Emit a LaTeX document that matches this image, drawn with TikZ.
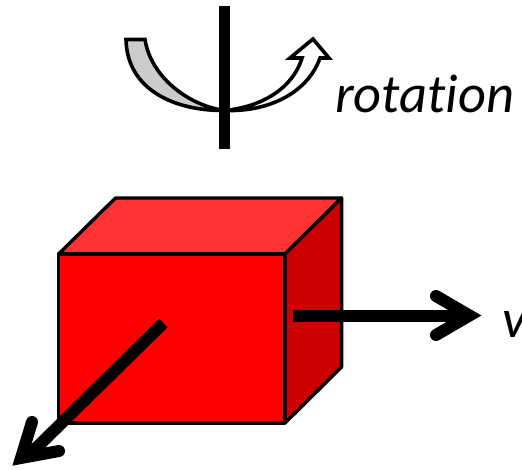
\documentclass[tikz,border=0pt]{standalone}
\usepackage{fontspec}
\setmainfont[Ligatures=NoCommon]{Carlito}
\definecolor{frontred}{RGB}{255,0,0}
\definecolor{topred}{RGB}{255,51,51}
\definecolor{sidered}{RGB}{204,0,0}
\definecolor{bandgray}{RGB}{204,204,204}
\tikzset{
  boxface/.style={draw=black,line width=3.4pt,line join=round},
  band/.style={draw=black,line width=3.6pt,line join=miter,miter limit=6},
  axisbar/.style={line width=11.3pt,line cap=butt,draw=black},
  shaft/.style={line width=12pt,line cap=butt,draw=black},
  tiphead/.style={line width=12pt,line cap=round,line join=miter,miter limit=8,draw=black},
  lbl/.style={font=\fontsize{54.5}{54.5}\selectfont\itshape,inner sep=0pt,anchor=base west}
}
\begin{document}
\begin{tikzpicture}[x=1pt,y=-1pt]
\useasboundingbox (0,0) rectangle (522,469);
% box
\coordinate (fa) at (58.6,254); \coordinate (fb) at (285,254);
\coordinate (fc) at (285,423); \coordinate (fd) at (58.6,423);
\coordinate (ba) at (115.5,198); \coordinate (bb) at (341.6,198);
\coordinate (bc) at (341.6,367);
\path[boxface,fill=topred] (fa) -- (ba) -- (bb) -- (fb) -- cycle;
\path[boxface,fill=sidered] (fb) -- (bb) -- (bc) -- (fc) -- cycle;
\path[boxface,fill=frontred] (fa) -- (fb) -- (fc) -- (fd) -- cycle;
% velocity arrows
\coordinate (rs) at (293,315.5); \coordinate (re) at (468,315.5);
\draw[shaft] (rs) -- (re);
\coordinate (r1) at (436,296); \coordinate (r2) at (469.5,315.5); \coordinate (r3) at (436,335);
\draw[tiphead] (r1) -- (r2) -- (r3);
\coordinate (ds) at (163.5,323); \coordinate (de) at (27,457);
\draw[shaft] (ds) -- (de);
\coordinate (d1) at (32,422); \coordinate (d2) at (21,458); \coordinate (d3) at (59,451);
\draw[tiphead] (d1) -- (d2) -- (d3);
% rotation band
\coordinate (b0) at (126,39.5); \coordinate (b1) at (145,39.5);
\coordinate (bm) at (224.7,110.5);
\path[band,fill=bandgray] (b0) -- (b1) .. controls (151,78) and (190,106) .. (bm)
  .. controls (175,111) and (127,90) .. (b0) -- cycle;
\path[band,fill=white] (bm) .. controls (262,107) and (293,88) .. (302,58)
  -- (290,58) -- (313,39) -- (329,58) -- (320,58)
  .. controls (308,92) and (270,112) .. (bm) -- cycle;
% axis
\coordinate (at) at (224.7,6); \coordinate (ab) at (224.7,149);
\draw[axisbar] (at) -- (ab);
% labels
\node[lbl] (rotlabel) at (335,112) {rotation};
\node[lbl] (vlabel) at (502,337) {v};
\end{tikzpicture}
\end{document}
